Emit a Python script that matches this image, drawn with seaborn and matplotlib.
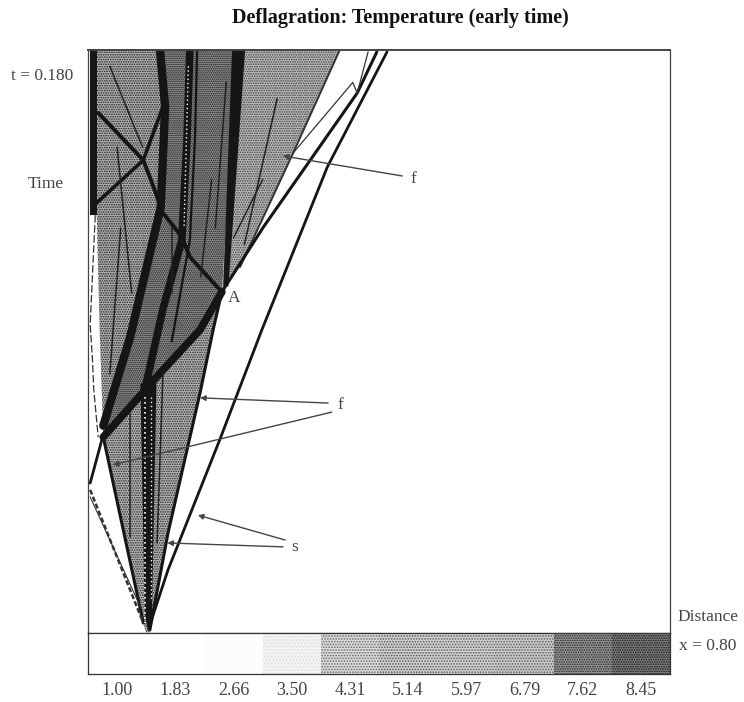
import matplotlib
matplotlib.use('Agg')
import matplotlib.pyplot as plt
from matplotlib.patches import Rectangle
import numpy as np
import pandas as pd
import seaborn as sns

# ─── Data (distance, time) ────────────────────────────────────────────────────
temp_labels = ['1.00', '1.83', '2.66', '3.50', '4.31', '5.14', '5.97', '6.79', '7.62', '8.45']
temp_shades = [1.0, 1.0, 0.985, 0.95, 0.86, 0.82, 0.82, 0.80, 0.60, 0.50]
temp_hatches = ['', '', '', '.....', '......', '......', '......', '......', '.......', '.......']
temp_inks = ['#ffffff', '#ffffff', '#ffffff', '#dddddd', '#666666', '#555555', '#5a5a5a', '#5a5a5a',
             '#222222', '#111111']

# regions: x list, t list
left_x = [0.003, 0.099, 0.106, 0.100, 0.058, 0.021, 0.016, 0.012, 0.003]
left_t = [0.180, 0.180, 0.1624, 0.1315, 0.0914, 0.0605, 0.094, 0.129, 0.129]
center_x = [0.099, 0.205, 0.184, 0.154, 0.103, 0.021, 0.058, 0.100, 0.106]
center_t = [0.180, 0.180, 0.1053, 0.0936, 0.0812, 0.0605, 0.0914, 0.1315, 0.1624]
right_x = [0.205, 0.346, 0.282, 0.209, 0.184]
right_t = [0.180, 0.180, 0.1482, 0.113, 0.1053]
fan_x = [0.021, 0.103, 0.154, 0.184, 0.172, 0.154, 0.110, 0.085, 0.080, 0.076]
fan_t = [0.0605, 0.0812, 0.0936, 0.1053, 0.0936, 0.0741, 0.0309, 0.0009, 0.0, 0.0031]

# dark tapered bands
edge_band_x = [0.003, 0.012, 0.012, 0.003]
edge_band_t = [0.180, 0.180, 0.129, 0.129]
hot_band_x = [0.198, 0.216, 0.193, 0.186]
hot_band_t = [0.180, 0.180, 0.107, 0.107]
core_x = [0.072, 0.094, 0.088, 0.083, 0.078]
core_t = [0.0770, 0.0770, 0.006, 0.0, 0.006]

# dark lines
contact_x = [0.184, 0.154, 0.103, 0.021]
contact_t = [0.1053, 0.0936, 0.0812, 0.0605]
band1_x = [0.099, 0.106, 0.100, 0.058, 0.021]
band1_t = [0.180, 0.1624, 0.1315, 0.0914, 0.0640]
band2_x = [0.140, 0.136, 0.129, 0.103, 0.080]
band2_t = [0.180, 0.1522, 0.1213, 0.1000, 0.0770]
band3_x = [0.150, 0.147, 0.140, 0.115]
band3_t = [0.180, 0.1522, 0.1213, 0.0900]
diag1_x = [0.014, 0.076, 0.088, 0.103, 0.129, 0.140, 0.184]
diag1_t = [0.1606, 0.146, 0.139, 0.1297, 0.1223, 0.1161, 0.1053]
diag2_x = [0.012, 0.076, 0.103]
diag2_t = [0.1328, 0.146, 0.1624]
inner_x = [[0.058, 0.058], [0.103, 0.095], [0.190, 0.175], [0.260, 0.215], [0.040, 0.060],
           [0.045, 0.030], [0.030, 0.075], [0.170, 0.155], [0.240, 0.200], [0.115, 0.115]]
inner_t = [[0.0679, 0.0296], [0.0803, 0.0278], [0.170, 0.125], [0.165, 0.120], [0.150, 0.105],
           [0.125, 0.080], [0.175, 0.150], [0.140, 0.110], [0.140, 0.122], [0.125, 0.105]]

# shock and wave fronts
shock_x = [0.085, 0.110, 0.181, 0.239, 0.329, 0.411]
shock_t = [0.0025, 0.0195, 0.0596, 0.0936, 0.1439, 0.1794]
front_x = [0.184, 0.241, 0.370, 0.397]
front_t = [0.1053, 0.1253, 0.1667, 0.1794]
thin_x = [0.282, 0.364, 0.370, 0.385]
thin_t = [0.1482, 0.170, 0.1667, 0.1794]
left_shock_x = [0.019, 0.003]
left_shock_t = [0.0596, 0.0463]
left_wave_x = [0.003, 0.076]
left_wave_t = [0.0442, 0.0031]
left_wave2_x = [0.003, 0.074]
left_wave2_t = [0.0420, 0.0071]
edge_dash_x = [0.010, 0.006, 0.003, 0.006, 0.008, 0.014]
edge_dash_t = [0.129, 0.110, 0.095, 0.085, 0.075, 0.0605]

# ─── Layout ───────────────────────────────────────────────────────────────────
sns.set_theme(style='white')
plt.rcParams['font.family'] = ['Liberation Serif', 'DejaVu Serif']
plt.rcParams['hatch.linewidth'] = 0.8
W, H = 744, 702
fig = plt.figure(figsize=(W / 100, H / 100), dpi=100, facecolor='white')
ax = fig.add_axes([88 / W, (H - 633) / H, 582 / W, 583 / H])
axb = fig.add_axes([88 / W, (H - 674) / H, 582 / W, 41 / H])

ax.set_xlim(0, 0.8)
ax.set_ylim(0, 0.18)
ax.set_xticks([])
ax.set_yticks([])

# ─── Regions ──────────────────────────────────────────────────────────────────
ax.fill(left_x, left_t, facecolor='#b4b4b4', edgecolor='#1c1c1c', hatch='.......', lw=0)
ax.fill(center_x, center_t, facecolor='#989898', edgecolor='#111111', hatch='........', lw=0)
ax.fill(right_x, right_t, facecolor='#bcbcbc', edgecolor='#3c3c3c', hatch='.......', lw=0)
ax.fill(fan_x, fan_t, facecolor='#b8b8b8', edgecolor='#222222', hatch='.......', lw=0)

ax.fill(edge_band_x, edge_band_t, color='#161616', lw=0)
ax.fill(hot_band_x, hot_band_t, color='#161616', lw=0)
ax.fill(core_x, core_t, color='#161616', lw=0)

# ─── Lines ────────────────────────────────────────────────────────────────────
def draw(xs, ts, lw, color='#151515', ls='-'):
    sns.lineplot(x=xs, y=ts, sort=False, estimator=None, ax=ax, color=color,
                 linewidth=lw, linestyle=ls, legend=False)

draw(contact_x, contact_t, 5.5)
draw(band1_x, band1_t, 6.0)
draw(band2_x, band2_t, 5.5)
draw(band3_x, band3_t, 1.6)
draw(diag1_x, diag1_t, 2.8)
draw(diag2_x, diag2_t, 2.6)
for xs, ts in zip(inner_x, inner_t):
    draw(xs, ts, 1.1, color='#222222')

draw(fan_x[3:8], fan_t[3:8], 2.2)
draw([fan_x[0], fan_x[9]], [fan_t[0], fan_t[9]], 2.2)
draw(right_x[1:4], right_t[1:4], 1.4, color='#333333')
draw(shock_x, shock_t, 2.0)
draw(front_x, front_t, 2.2)
draw(thin_x, thin_t, 0.9, color='#333333')
draw(left_shock_x, left_shock_t, 2.0)
draw(left_wave_x, left_wave_t, 1.8, color='#333333', ls=(0, (2, 1)))
draw(left_wave2_x, left_wave2_t, 0.8, color='#333333')
draw(edge_dash_x, edge_dash_t, 0.9, color='#333333', ls=(0, (6, 2)))

# white dots in the core
draw([0.079, 0.079], [0.0730, 0.003], 1.2, color='white', ls=(0, (1, 2)))
draw([0.086, 0.086], [0.0730, 0.010], 1.0, color='white', ls=(0, (1, 2)))
draw([0.138, 0.132], [0.175, 0.125], 1.0, color='white', ls=(0, (1, 2)))

# ─── Annotations ──────────────────────────────────────────────────────────────
arrow = dict(arrowstyle='-|>', color='#444444', lw=1.0, mutation_scale=8, shrinkA=0, shrinkB=0)
ax.annotate('', xy=(0.268, 0.1473), xytext=(0.432, 0.1411), arrowprops=arrow)
ax.annotate('', xy=(0.154, 0.0726), xytext=(0.330, 0.0710), arrowprops=arrow)
ax.annotate('', xy=(0.034, 0.0519), xytext=(0.335, 0.0682), arrowprops=arrow)
ax.annotate('', xy=(0.151, 0.0364), xytext=(0.271, 0.0287), arrowprops=arrow)
ax.annotate('', xy=(0.109, 0.0278), xytext=(0.268, 0.0266), arrowprops=arrow)

for side in ax.spines.values():
    side.set_color('#444444')
    side.set_linewidth(0.9)
ax.spines['top'].set_linewidth(1.4)

# ─── Temperature strip ────────────────────────────────────────────────────────
strip = pd.DataFrame([temp_shades], columns=temp_labels)
sns.heatmap(strip, ax=axb, cmap='gray', vmin=0, vmax=1, cbar=False,
            xticklabels=True, yticklabels=False)
for i, h in enumerate(temp_hatches):
    if h:
        axb.add_patch(Rectangle((i, 0), 1, 1, fill=False, hatch=h, lw=0, edgecolor=temp_inks[i]))
axb.tick_params(axis='x', length=0, pad=6, labelsize=13, labelcolor='#444444', rotation=0)
axb.set_xlabel('')
axb.set_ylabel('')
for side in axb.spines.values():
    side.set_visible(True)
    side.set_color('#333333')
    side.set_linewidth(0.9)

# ─── Text ─────────────────────────────────────────────────────────────────────
def label(px, py, s):
    fig.text(px / W, 1 - py / H, s, ha='center', va='center', color='#444444', fontsize=12.5)

fig.text(400 / W, 1 - 18 / H, 'Deflagration: Temperature (early time)', ha='center',
         va='center', fontsize=14.5, fontweight='bold', color='#111111')
label(42, 76, 't = 0.180')
label(46, 184, 'Time')
label(234, 298, 'A')
label(413, 179, 'f')
label(340, 405, 'f')
label(295, 547, 's')
label(708, 617, 'Distance')
label(708, 646, 'x = 0.80')

fig.savefig('out.png', dpi=100)
